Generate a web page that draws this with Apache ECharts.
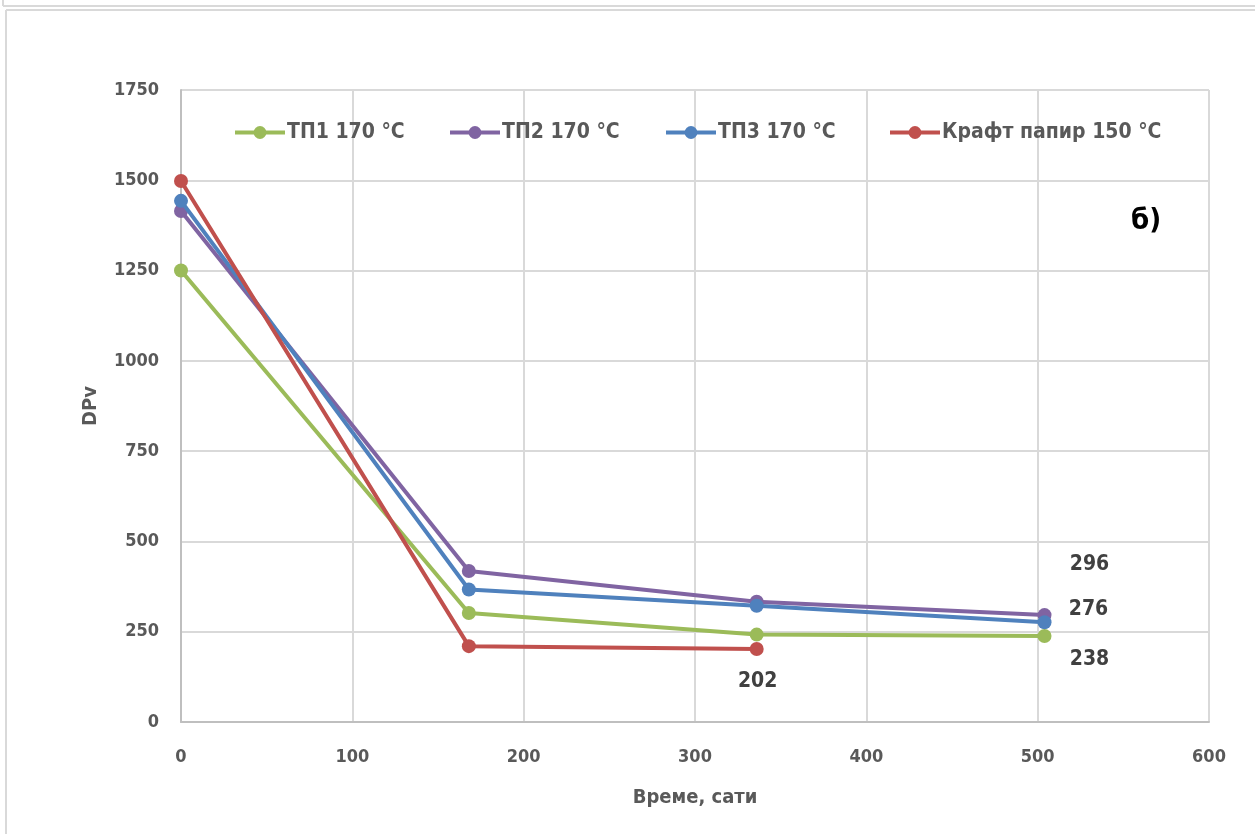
<!DOCTYPE html>
<html>
<head>
<meta charset="utf-8">
<script src="https://cdn.jsdelivr.net/npm/echarts@6/dist/echarts.min.js"></script>
<style>
  html, body { margin: 0; padding: 0; background: #fff; }
  #chart { width: 1255px; height: 834px; }
</style>
</head>
<body>
<div id="chart"></div>
<script>
// Aging time, hours
const hours = [0, 168, 336, 504];
// Viscometric degree of polymerization per sample
const tp1 = [1250, 302, 242, 238];
const tp2 = [1415, 418, 333, 296];
const tp3 = [1443, 367, 322, 276];
const kraft = [1498, 210, 202];
const seriesNames = ['ТП1 170 °C', 'ТП2 170 °C', 'ТП3 170 °C', 'Крафт папир 150 °C'];
const xTicks = [0, 100, 200, 300, 400, 500, 600];
const yTicks = [0, 250, 500, 750, 1000, 1250, 1500, 1750];

const FONT = '"Liberation Sans Narrow", "DejaVu Sans Condensed", sans-serif';
const colors = ['#9bbb59', '#8064a2', '#4f81bd', '#c0504d'];

function pairs(vals) { return vals.map((v, i) => [hours[i], v]); }

// End-point value labels, placed beside the last marker of each curve
function endLabel(offset) {
  return {
    show: true, position: 'inside', offset: offset,
    fontFamily: FONT, fontWeight: 'bold', fontSize: 21, color: '#404040',
    formatter: p => p.value[1]
  };
}
function withEndLabel(vals, offset) {
  const d = pairs(vals);
  const last = d.length - 1;
  return d.map((pt, i) => i === last ? { value: pt, label: endLabel(offset) } : pt);
}

const datasets = [
  withEndLabel(tp1, [45, 23]),
  withEndLabel(tp2, [45, -51]),
  withEndLabel(tp3, [44, -13]),
  withEndLabel(kraft, [1, 32])
];

const chart = echarts.init(document.getElementById('chart'), null, { renderer: 'canvas' });

const legendLefts = [233, 448, 664, 888];

chart.setOption({
  animation: false,
  backgroundColor: '#ffffff',
  color: colors,
  grid: { left: 181, right: 46, top: 90, bottom: 112, containLabel: false },
  legend: seriesNames.map((n, i) => ({
    data: [n], left: legendLefts[i], top: 122, padding: 0,
    itemWidth: 50, itemHeight: 16, itemGap: 0,
    lineStyle: { width: 4 },
    textStyle: { fontFamily: FONT, fontWeight: 'bold', fontSize: 21, color: '#595959', padding: [0, 0, 0, -3] }
  })),
  xAxis: {
    type: 'value', min: 0, max: 600, interval: 100,
    name: 'Време, сати', nameLocation: 'middle', nameGap: 66,
    nameTextStyle: { fontFamily: FONT, fontWeight: 'bold', fontSize: 20, color: '#595959' },
    axisLine: { show: true, lineStyle: { color: '#bfbfbf', width: 2 } },
    axisTick: { show: false },
    axisLabel: { fontFamily: FONT, fontWeight: 'bold', fontSize: 18, color: '#595959', margin: 26,
      formatter: v => xTicks.includes(v) ? String(v) : '' },
    splitLine: { show: true, lineStyle: { color: '#d9d9d9', width: 2 } }
  },
  yAxis: {
    type: 'value', min: 0, max: 1750, interval: 250,
    name: 'DPv', nameLocation: 'middle', nameGap: 80, nameRotate: 90,
    nameTextStyle: { fontFamily: FONT, fontWeight: 'bold', fontSize: 20, color: '#595959' },
    axisLine: { show: true, lineStyle: { color: '#bfbfbf', width: 2 } },
    axisTick: { show: false },
    axisLabel: { fontFamily: FONT, fontWeight: 'bold', fontSize: 18, color: '#595959', margin: 22,
      formatter: v => yTicks.includes(v) ? String(v) : '' },
    splitLine: { show: true, lineStyle: { color: '#d9d9d9', width: 2 } }
  },
  series: seriesNames.map((n, i) => ({
    name: n, type: 'line', data: datasets[i],
    symbol: 'circle', symbolSize: 14,
    lineStyle: { width: 4, color: colors[i] },
    itemStyle: { color: colors[i] },
    z: 2 + i
  })),
  graphic: [
    // outer frame lines
    { type: 'line', shape: { x1: 3, y1: 0, x2: 3, y2: 6 }, style: { stroke: '#d9d9d9', lineWidth: 2 } },
    { type: 'line', shape: { x1: 3, y1: 6, x2: 1255, y2: 6 }, style: { stroke: '#d9d9d9', lineWidth: 2 } },
    { type: 'line', shape: { x1: 6, y1: 10, x2: 1255, y2: 10 }, style: { stroke: '#d9d9d9', lineWidth: 2 } },
    { type: 'line', shape: { x1: 6, y1: 10, x2: 6, y2: 834 }, style: { stroke: '#d9d9d9', lineWidth: 2 } },
    // panel tag
    { type: 'text', left: 1131, top: 207,
      style: { text: 'б)', font: 'bold 29px ' + FONT, fill: '#000000' } }
  ]
});
</script>
</body>
</html>
